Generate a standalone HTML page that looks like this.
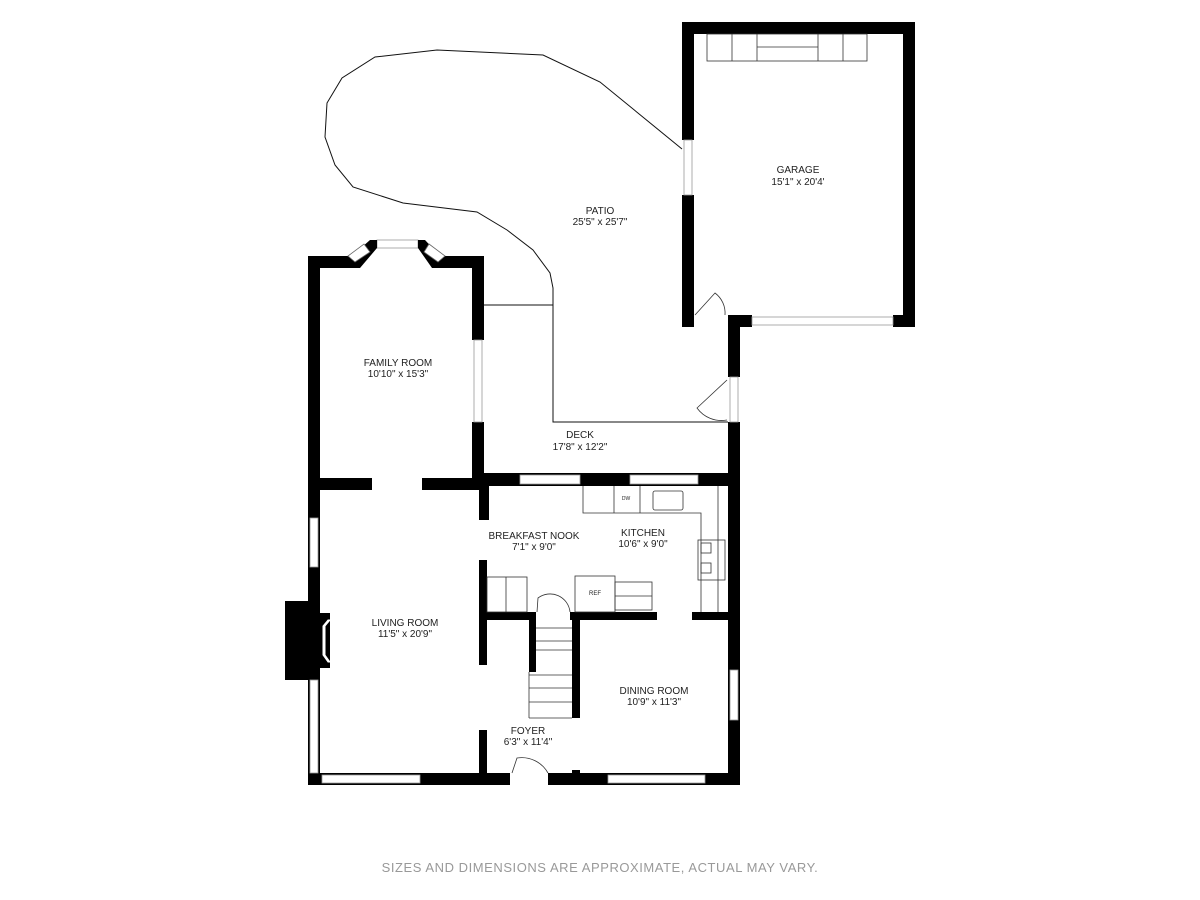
<!DOCTYPE html>
<html><head><meta charset="utf-8"><style>
html,body{margin:0;padding:0;background:#fff;}
svg{display:block}
text{font-family:"Liberation Sans","DejaVu Sans",sans-serif;fill:#222;font-size:10px;text-anchor:middle}
</style></head><body>
<svg width="1200" height="900" viewBox="0 0 1200 900">
<g fill="none" stroke="#111" stroke-width="1">
<polyline points="682,149 600,82 543,55 437,50 375,57 342,78 327,103 325,137 335,165 353,187 403,203 477,212 507,230 533,250 550,273 553,288 553,422 728,422"/>
<line x1="484" y1="305" x2="553" y2="305"/>
</g>
<g fill="#000">
<rect x="682" y="22" width="233" height="12"/>
<rect x="682" y="22" width="12" height="118"/>
<rect x="682" y="195" width="12" height="132"/>
<rect x="903" y="22" width="12" height="305"/>
<rect x="893" y="315" width="22" height="12"/>
<rect x="728" y="315" width="24" height="12"/>
<rect x="728" y="315" width="12" height="62"/>
<rect x="728" y="422" width="12" height="363"/>
<rect x="308" y="256" width="44" height="12"/>
<rect x="440" y="256" width="44" height="12"/>
<rect x="308" y="256" width="12" height="529"/>
<rect x="472" y="256" width="12" height="84"/>
<rect x="472" y="422" width="12" height="64"/>
<rect x="320" y="478" width="52" height="12"/>
<rect x="422" y="478" width="62" height="12"/>
<rect x="472" y="473" width="268" height="13"/>
<rect x="479" y="478" width="10" height="42"/>
<rect x="479" y="560" width="8" height="105"/>
<rect x="479" y="730" width="8" height="55"/>
<rect x="308" y="773" width="432" height="12"/>
<rect x="486" y="612" width="50" height="8"/>
<rect x="570" y="612" width="87" height="8"/>
<rect x="692" y="612" width="48" height="8"/>
<rect x="529" y="612" width="7" height="60"/>
<rect x="572" y="612" width="8" height="106"/>
<rect x="572" y="770" width="8" height="15"/>
<rect x="285" y="601" width="35" height="79"/>
<rect x="318" y="613" width="12" height="55"/>
</g>
<g fill="#fff" stroke="#999" stroke-width="0.8">
<rect x="684" y="140" width="8" height="55"/>
<rect x="752" y="317" width="141" height="8"/>
<rect x="474" y="340" width="8" height="82"/>
<rect x="310" y="518" width="8" height="49"/>
<rect x="310" y="680" width="8" height="93"/>
<rect x="322" y="775" width="98" height="8"/>
<rect x="608" y="775" width="97" height="8"/>
<rect x="520" y="475" width="60" height="9"/>
<rect x="630" y="475" width="68" height="9"/>
<rect x="730" y="670" width="8" height="50"/>
<rect x="377" y="240" width="41" height="8"/>
<rect x="730" y="377" width="8" height="45"/>
</g>
<g fill="#fff" stroke="none">
<rect x="694" y="315" width="34" height="12"/>
<rect x="510" y="773" width="38" height="12"/>
</g>
<polygon points="330,620 325,626 325,655 330,662 328,662 323,655 323,626 328,620" fill="#fff" stroke="#fff" stroke-width="1"/>
<g fill="#000"><polygon points="352,256 370,240 377,240 377,248 360,268 352,268"/><polygon points="440,256 425,240 418,240 418,248 432,268 440,268"/></g>
<g fill="#fff" stroke="#666" stroke-width="0.8"><polygon points="348,256 364,244 370,252 355,262"/><polygon points="445,256 429,244 424,252 438,262"/></g>
<g fill="none" stroke="#333" stroke-width="0.8">
<rect x="707" y="34" width="160" height="27"/>
<line x1="732" y1="34" x2="732" y2="61"/><line x1="757" y1="34" x2="757" y2="61"/>
<line x1="818" y1="34" x2="818" y2="61"/><line x1="843" y1="34" x2="843" y2="61"/>
<line x1="757" y1="47" x2="818" y2="47"/>
<path d="M695,315 L715,293 A25,25 0 0 1 725,315"/>
<path d="M727,380 L697,408 A30,30 0 0 0 727,420"/>
<path d="M537,612 L538,598 A20,20 0 0 1 570,612"/>
<path d="M512,773 L517,758 A30,30 0 0 1 548,773"/>
<polyline points="583,486 583,513 701,513 701,612"/>
<line x1="718" y1="486" x2="718" y2="612"/>
<line x1="614" y1="486" x2="614" y2="513"/><line x1="640" y1="486" x2="640" y2="513"/>
<rect x="653" y="491" width="30" height="19" rx="2"/>
<rect x="698" y="540" width="27" height="40"/>
<rect x="701" y="543" width="10" height="10"/><rect x="701" y="563" width="10" height="10"/>
<rect x="487" y="577" width="40" height="35"/><line x1="506" y1="577" x2="506" y2="612"/>
<rect x="575" y="576" width="40" height="36"/>
<rect x="615" y="582" width="37" height="28"/><line x1="615" y1="596" x2="652" y2="596"/>
<line x1="536" y1="628" x2="572" y2="628"/><line x1="536" y1="641" x2="572" y2="641"/>
<line x1="536" y1="650" x2="572" y2="650"/><line x1="529" y1="675" x2="572" y2="675"/>
<line x1="529" y1="688" x2="572" y2="688"/><line x1="529" y1="702" x2="572" y2="702"/>
<line x1="529" y1="718" x2="572" y2="718"/><line x1="529" y1="672" x2="529" y2="718"/>
</g>
<text x="626" y="500" style="font-size:5px">DW</text>
<text x="595" y="595" style="font-size:6px">REF</text>
<text x="798" y="173">GARAGE</text><text x="798" y="185">15'1" x 20'4'</text>
<text x="600" y="214">PATIO</text><text x="600" y="225">25'5" x 25'7"</text>
<text x="398" y="366">FAMILY ROOM</text><text x="398" y="377">10'10" x 15'3"</text>
<text x="580" y="438">DECK</text><text x="580" y="450">17'8" x 12'2"</text>
<text x="534" y="539">BREAKFAST NOOK</text><text x="534" y="550">7'1" x 9'0"</text>
<text x="643" y="536">KITCHEN</text><text x="643" y="547">10'6" x 9'0"</text>
<text x="405" y="626">LIVING ROOM</text><text x="405" y="637">11'5" x 20'9"</text>
<text x="654" y="694">DINING ROOM</text><text x="654" y="705">10'9" x 11'3"</text>
<text x="528" y="734">FOYER</text><text x="528" y="745">6'3" x 11'4"</text>
<text x="600" y="872" style="font-size:13px;letter-spacing:0.55px;fill:#999">SIZES AND DIMENSIONS ARE APPROXIMATE, ACTUAL MAY VARY.</text>
</svg>
</body></html>
